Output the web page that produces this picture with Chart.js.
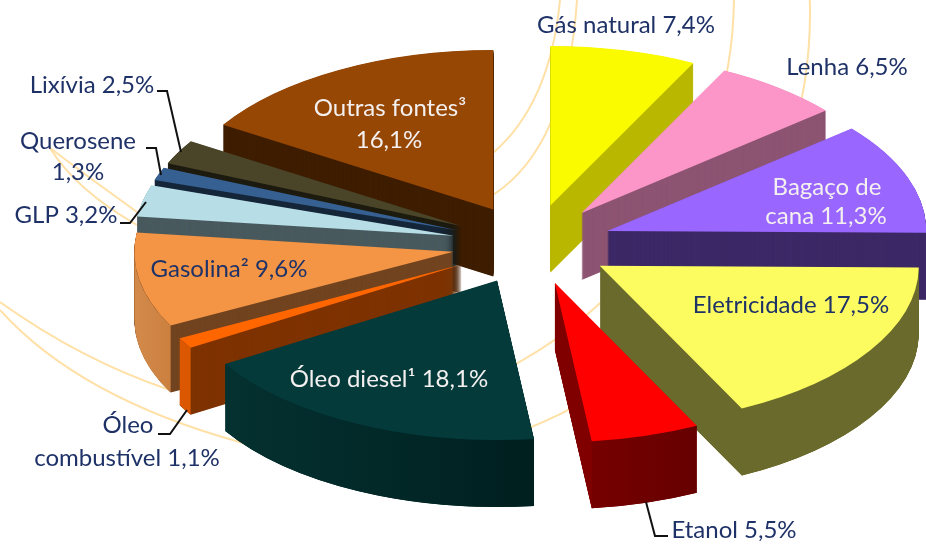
<!DOCTYPE html>
<html><head><meta charset="utf-8">
<style>html,body{margin:0;padding:0;background:#fff}canvas{display:block}</style>
<script src="https://cdn.jsdelivr.net/npm/chart.js@4/dist/chart.umd.min.js"></script>
</head><body>
<canvas id="c" width="926" height="544"></canvas>
<script>
const categories = ["Gás natural","Lenha","Bagaço de cana","Eletricidade","Etanol","Óleo diesel¹","Óleo combustível","Gasolina²","GLP","Querosene","Lixívia","Outras fontes³"];
const values = [7.4,6.5,11.3,17.5,5.5,18.1,1.1,9.6,3.2,1.3,2.5,16.1];
const topColors = ["#FBFB00","#FC96C8","#9966FF","#FCFC60","#FF0000","#043A3A","#FF6600","#F39545","#B7DDE6","#376092","#4A4529","#964704"];
const cutColors = ["#B9B700","#8D5572","#3D2966","#696A2B","#800000","#032B2B","#7F3300","#724420","#495A5E","#16273A","#1E1C10","#3F1E00"];
const wallFrom  = ["#B9B700","#8D5572","#3D2966","#696A2B","#760000","#053131","#DB5800","#D28A4A","#495A5E","#16273A","#1E1C10","#3F1E00"];
const wallTo    = ["#B9B700","#8D5572","#3D2966","#696A2B","#660000","#001F1F","#DB5800","#CC8040","#495A5E","#16273A","#1E1C10","#3F1E00"];

const NAVY="#1F3268", WHITE="#F4F0F0";
const labelTexts = [
 ["Gás natural 7,4%",626,33,NAVY],["Lenha 6,5%",847,75,NAVY],
 ["Bagaço de",827,195,WHITE],["cana 11,3%",826,224,WHITE],
 ["Eletricidade 17,5%",791,313,NAVY],["Etanol 5,5%",734,538,NAVY],
 ["Óleo diesel¹ 18,1%",389,387,WHITE],["Óleo",128,433,NAVY],["combustível 1,1%",127,466,NAVY],
 ["Gasolina² 9,6%",229,277,NAVY],["GLP 3,2%",66,223,NAVY],
 ["Querosene",78,149,NAVY],["1,3%",78,180,NAVY],["Lixívia 2,5%",92,93,NAVY],
 ["Outras fontes³",390,116,WHITE],["16,1%",389,148,WHITE]
];
const leaderLines = [
 [[157,91],[167,91],[181,152]],[[146,148],[156,148],[161,175]],[[120,223],[130,223],[146,202]],
 [[158,434],[170,434],[187,410]],[[646,502],[655,536],[668,536]]
];
// decorative background swirls behind the pie
const decorCurves = [
 [50,148,92,180,137,212],[50,148,76,190,137,225],
 [560,0,550,104,493,153],[577,0,567,147,493,195],
 [0,302,81,360,170,390],[0,310,79,398,243,443]
];
const decorArcs = [[313,-5,421,-1,80],[363,13,447,-3,85]];

const SQUASH=0.5, EXPLODE=80, DEPTH=67;

const pie3d = {
 id:'pie3d',
 beforeDatasetsDraw(chart){
  const ctx=chart.ctx; ctx.save();
  ctx.strokeStyle="#FFE0A6"; ctx.lineWidth=2;
  decorCurves.forEach(c=>{ctx.beginPath();ctx.moveTo(c[0],c[1]);ctx.quadraticCurveTo(c[2],c[3],c[4],c[5]);ctx.stroke();});
  decorArcs.forEach(([x,y,r,a,b])=>{ctx.beginPath();ctx.arc(x,y,r,a*Math.PI/180,b*Math.PI/180);ctx.stroke();});
  ctx.restore();
 },
 beforeDatasetDraw(chart,args){
  const ctx=chart.ctx, arcs=args.meta.data;
  const mid=a=>(a.startAngle+a.endAngle)/2;
  const order=arcs.map((a,i)=>i).sort((p,q)=>Math.sin(mid(arcs[p]))-Math.sin(mid(arcs[q])));
  order.forEach(i=>{
   const a=arcs[i], m=mid(a), cy=a.y;
   ctx.save();
   ctx.translate(0,cy); ctx.scale(1,SQUASH); ctx.translate(0,-cy);
   ctx.translate(Math.cos(m)*EXPLODE,Math.sin(m)*EXPLODE);
   const orig=a.options;
   a.options=Object.assign({},orig,{backgroundColor:cutColors[i],borderWidth:0});
   for(let d=DEPTH/SQUASH;d>0;d-=1){ctx.save();ctx.translate(0,d);a.draw(ctx);ctx.restore();}
   // outer curved wall: only the part that faces the viewer
   let s=a.startAngle,e=a.endAngle;
   const norm=v=>{while(v<-Math.PI/2)v+=Math.PI*2;while(v>=Math.PI*1.5)v-=Math.PI*2;return v;};
   const base=norm(s); e=base+(e-s); s=base;
   const lo=Math.max(s,0),hi=Math.min(e,Math.PI);
   if(hi>lo){
    const g=ctx.createLinearGradient(a.x+Math.cos(hi)*a.outerRadius,0,a.x+Math.cos(lo)*a.outerRadius,0);
    g.addColorStop(0,wallFrom[i]);g.addColorStop(1,wallTo[i]);
    ctx.fillStyle=g;ctx.beginPath();
    ctx.arc(a.x,a.y,a.outerRadius,lo,hi);
    ctx.arc(a.x,a.y+DEPTH/SQUASH,a.outerRadius,hi,lo,true);
    ctx.closePath();ctx.fill();
   }
   a.options=orig;
   a.draw(ctx);
   ctx.restore();
  });
  return false;
 },
 afterDatasetsDraw(chart){
  const ctx=chart.ctx; ctx.save();
  ctx.strokeStyle="#111";ctx.lineWidth=2;ctx.lineJoin="miter";
  leaderLines.forEach(l=>{ctx.beginPath();l.forEach((p,i)=>i?ctx.lineTo(p[0],p[1]):ctx.moveTo(p[0],p[1]));ctx.stroke();});
  ctx.font='24px Lato';ctx.textAlign='center';ctx.textBaseline='alphabetic';
  labelTexts.forEach(([t,x,y,c])=>{ctx.fillStyle=c;ctx.fillText(t,x,y);});
  ctx.restore();
 }
};

new Chart(document.getElementById('c'),{
 type:'pie',
 data:{labels:categories,datasets:[{data:values,backgroundColor:topColors,borderWidth:0}]},
 options:{
  responsive:false,animation:false,rotation:0,radius:319,
  layout:{padding:{left:138,bottom:55}},
  plugins:{legend:{display:false},tooltip:{enabled:false}},
  events:[]
 },
 plugins:[pie3d]
});
</script>
</body></html>
